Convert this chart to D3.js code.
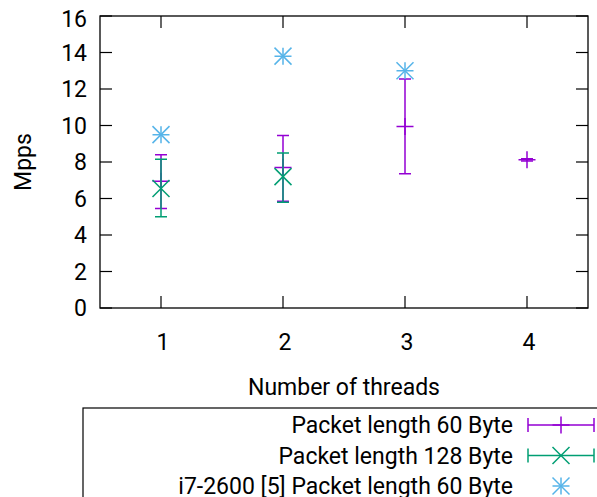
<!DOCTYPE html>
<html>
<head>
<meta charset="utf-8">
<script src="https://cdn.jsdelivr.net/npm/d3@7"></script>
<style>
  body { margin: 0; background: #fff; }
  svg { display: block; }
  text { font-family: Roboto, "DejaVu Sans", sans-serif; font-size: 23px; fill: #000; }
</style>
</head>
<body>
<svg id="chart" width="597" height="497"></svg>
<script>
// values
var threads = [1, 2, 3, 4];
var xTicks = [1, 2, 3, 4];
var yTicks = [0, 2, 4, 6, 8, 10, 12, 14, 16];

// Packet length 60 Byte: mean, low, high
var p60Mean = [6.95, 7.7, 9.95, 8.12];
var p60Low  = [5.45, 5.85, 7.35, 8.05];
var p60High = [8.4, 9.45, 12.55, 8.18];

// Packet length 128 Byte
var p128Threads = [1, 2];
var p128Mean = [6.55, 7.2];
var p128Low  = [5.0, 5.8];
var p128High = [8.15, 8.5];

// i7-2600 [5] Packet length 60 Byte
var refThreads = [1, 2, 3];
var refValues = [9.5, 13.8, 13.0];

var seriesNames = ["Packet length 60 Byte", "Packet length 128 Byte", "i7-2600 [5] Packet length 60 Byte"];
var colors = ["#9400d3", "#009e73", "#56b4e9"];

var svg = d3.select("#chart");
var pLeft = 100, pRight = 588, pTop = 16, pBottom = 308;

var x = d3.scaleLinear().domain([0.5, 4.5]).range([pLeft, pRight]);
var y = d3.scaleLinear().domain([0, 16]).range([pBottom, pTop]);

var tick = 12, cap = 6, m = 8.5;

// ticks on all four sides, pointing in
var grid = svg.append("g").attr("stroke", "#000").attr("stroke-width", 1.2);
yTicks.forEach(function (t) {
    grid.append("line").attr("x1", pLeft).attr("x2", pLeft + tick).attr("y1", y(t)).attr("y2", y(t));
    grid.append("line").attr("x1", pRight).attr("x2", pRight - tick).attr("y1", y(t)).attr("y2", y(t));
});
xTicks.forEach(function (t) {
    grid.append("line").attr("x1", x(t)).attr("x2", x(t)).attr("y1", pBottom).attr("y2", pBottom - tick);
    grid.append("line").attr("x1", x(t)).attr("x2", x(t)).attr("y1", pTop).attr("y2", pTop + tick);
});

// keep the top label from touching the window edge
svg.selectAll(".ylab").data(yTicks).enter().append("text")
    .attr("x", 87).attr("y", function (d) { return Math.max(y(d), 19); })
    .attr("dy", "0.36em").attr("text-anchor", "end")
    .text(function (d) { return d; });

svg.selectAll(".xlab").data(xTicks).enter().append("text")
    .attr("x", function (d) { return x(d) + 2; }).attr("y", 350)
    .attr("text-anchor", "middle")
    .text(function (d) { return d; });

svg.append("text").attr("transform", "translate(31,162) rotate(-90)")
    .attr("text-anchor", "middle").text("Mpps");
svg.append("text").attr("x", 344).attr("y", 395)
    .attr("text-anchor", "middle").text("Number of threads");

// marker drawing helpers
function plus(g, cx, cy, col) {
    g.append("path").attr("d", "M" + (cx - m) + "," + cy + "H" + (cx + m) + "M" + cx + "," + (cy - m) + "V" + (cy + m))
        .attr("stroke", col).attr("stroke-width", 1.5).attr("fill", "none");
}
function cross(g, cx, cy, col) {
    g.append("path").attr("d", "M" + (cx - m) + "," + (cy - m) + "L" + (cx + m) + "," + (cy + m) +
        "M" + (cx - m) + "," + (cy + m) + "L" + (cx + m) + "," + (cy - m))
        .attr("stroke", col).attr("stroke-width", 1.5).attr("fill", "none");
}
function star(g, cx, cy, col) {
    plus(g, cx, cy, col);
    cross(g, cx, cy, col);
}
function errBar(g, cx, lo, hi, col) {
    g.append("path").attr("d", "M" + cx + "," + y(lo) + "V" + y(hi) +
        "M" + (cx - cap) + "," + y(lo) + "H" + (cx + cap) +
        "M" + (cx - cap) + "," + y(hi) + "H" + (cx + cap))
        .attr("stroke", col).attr("stroke-width", 1.5).attr("fill", "none");
}

var plot = svg.append("g");
threads.forEach(function (t, i) {
    errBar(plot, x(t), p60Low[i], p60High[i], colors[0]);
    plus(plot, x(t), y(p60Mean[i]), colors[0]);
});
p128Threads.forEach(function (t, i) {
    errBar(plot, x(t), p128Low[i], p128High[i], colors[1]);
    cross(plot, x(t), y(p128Mean[i]), colors[1]);
});
refThreads.forEach(function (t, i) {
    star(plot, x(t), y(refValues[i]), colors[2]);
});

// frame
svg.append("rect").attr("x", pLeft).attr("y", pTop).attr("width", pRight - pLeft).attr("height", pBottom - pTop)
    .attr("fill", "none").attr("stroke", "#000").attr("stroke-width", 1.3);

// legend
var lg = svg.append("g");
lg.append("rect").attr("x", 83).attr("y", 408).attr("width", 530).attr("height", 120)
    .attr("fill", "none").attr("stroke", "#000").attr("stroke-width", 1.2);
var rowY = [425, 455.5, 486];
seriesNames.forEach(function (name, i) {
    lg.append("text").attr("x", 513).attr("y", rowY[i]).attr("dy", "0.36em")
        .attr("text-anchor", "end").text(name);
    var cx = 561;
    if (i < 2) {
        lg.append("path").attr("d", "M528," + rowY[i] + "H594" +
            "M528," + (rowY[i] - 7) + "V" + (rowY[i] + 7) +
            "M594," + (rowY[i] - 7) + "V" + (rowY[i] + 7))
            .attr("stroke", colors[i]).attr("stroke-width", 1.5).attr("fill", "none");
    }
    if (i === 0) plus(lg, cx, rowY[i], colors[i]);
    if (i === 1) cross(lg, cx, rowY[i], colors[i]);
    if (i === 2) star(lg, cx, rowY[i], colors[i]);
});
</script>
</body>
</html>
